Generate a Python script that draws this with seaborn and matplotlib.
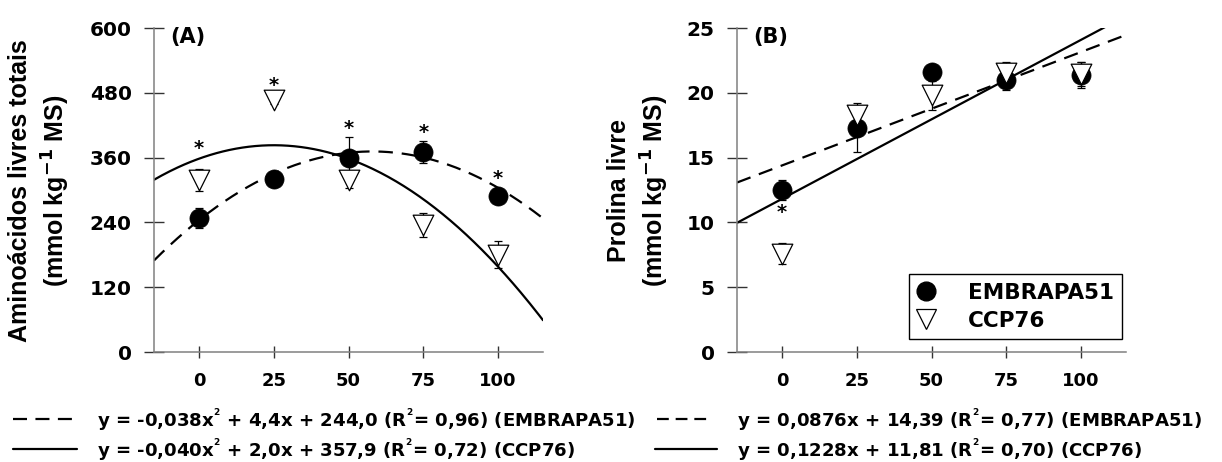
import numpy as np
import pandas as pd
import matplotlib
matplotlib.use("Agg")
import matplotlib.pyplot as plt
import seaborn as sns
from matplotlib.lines import Line2D

# ---------------- data ----------------
doses = [0, 25, 50, 75, 100]
x_ticks = [0, 25, 50, 75, 100]
aa_yticks = [0, 120, 240, 360, 480, 600]
pro_yticks = [0, 5, 10, 15, 20, 25]

aa_embrapa = [248, 320, 359, 370, 289]
aa_embrapa_err = [18, 10, 39, 20, 10]
aa_ccp = [318, 467, 318, 235, 180]
aa_ccp_err = [20, 8, 15, 22, 25]
aa_star_x = [0, 25, 50, 75, 100]
aa_star_y = [376, 494, 413, 407, 322]

pro_embrapa = [12.5, 17.3, 21.6, 21.0, 21.4]
pro_embrapa_err = [0.8, 1.9, 0.5, 0.8, 1.0]
pro_ccp = [7.6, 18.3, 19.8, 21.5, 21.45]
pro_ccp_err = [0.8, 0.7, 1.1, 0.9, 0.9]
pro_star_x = [0]
pro_star_y = [10.8]

aa_fit_embrapa = [-0.038, 4.4, 244.0]   # quadratic coefficients
aa_fit_ccp = [-0.040, 2.0, 357.9]
pro_fit_embrapa = [0.0876, 14.39]       # linear coefficients
pro_fit_ccp = [0.1228, 11.81]

series = ["EMBRAPA51", "CCP76"]
SUP2 = r"$^{{}^{2}}$"
eq_a = ["y = -0,038x" + SUP2 + " + 4,4x + 244,0 (R" + SUP2 + "= 0,96) (EMBRAPA51)",
        "y = -0,040x" + SUP2 + " + 2,0x + 357,9 (R" + SUP2 + "= 0,72) (CCP76)"]
eq_b = ["y = 0,0876x + 14,39 (R" + SUP2 + "= 0,77) (EMBRAPA51)",
        "y = 0,1228x + 11,81 (R" + SUP2 + "= 0,70) (CCP76)"]
ylab_a = "Aminoácidos livres totais\n(mmol kg$^{-1}$ MS)"
ylab_b = "Prolina livre\n(mmol kg$^{-1}$ MS)"

# ---------------- style ----------------
sns.set_style("ticks")
plt.rcParams["font.family"] = ["DejaVu Sans"]
plt.rcParams["font.weight"] = "bold"
plt.rcParams["text.color"] = "black"
plt.rcParams["axes.labelcolor"] = "black"
plt.rcParams["xtick.color"] = "black"
plt.rcParams["ytick.color"] = "black"
plt.rcParams["mathtext.fontset"] = "custom"
plt.rcParams["mathtext.rm"] = "DejaVu Sans:bold"
plt.rcParams["mathtext.it"] = "DejaVu Sans:bold"
plt.rcParams["mathtext.bf"] = "DejaVu Sans:bold"
plt.rcParams["mathtext.default"] = "rm"

W, H = 1222, 462
fig = plt.figure(figsize=(W / 100, H / 100), dpi=100)
fig.patch.set_facecolor("white")

def fx(px):
    return px / W

def fy(py):
    return 1 - py / H

ax_a = fig.add_axes([fx(154), fy(352), 389 / W, 324 / H])
ax_b = fig.add_axes([fx(737), fy(352), 389 / W, 324 / H])

xgrid = np.linspace(-15, 115, 300)
dash = (0, (6.5, 4))


def style_axis(ax, yticks, ylim):
    ax.set_xlim(-15, 115)
    ax.set_ylim(*ylim)
    ax.set_xticks(x_ticks)
    ax.set_yticks(yticks)
    for s in ["top", "right"]:
        ax.spines[s].set_visible(False)
    for s in ["left", "bottom"]:
        ax.spines[s].set_color("#808080")
        ax.spines[s].set_linewidth(1.1)
    ax.tick_params(axis="y", direction="inout", length=14, width=1.0,
                   color="#333333", labelcolor="black", pad=9,
                   labelsize=14.5)
    ax.tick_params(axis="x", direction="inout", length=8.5, width=1.0,
                   color="#333333", labelcolor="black", pad=10,
                   labelsize=13)
    for lab in ax.get_xticklabels() + ax.get_yticklabels():
        lab.set_fontweight("bold")
    ax.set_xlabel("")
    ax.set_ylabel("")


def draw_points(ax, y1, e1, y2, e2):
    ax.errorbar(doses, y1, yerr=e1, fmt="none", ecolor="black",
                elinewidth=0.9, capsize=3.2, capthick=0.9, zorder=2)
    ax.errorbar(doses, y2, yerr=e2, fmt="none", ecolor="black",
                elinewidth=0.9, capsize=3.2, capthick=0.9, zorder=2)
    d1 = pd.DataFrame({"x": doses, "y": y1})
    d2 = pd.DataFrame({"x": doses, "y": y2})
    sns.scatterplot(data=d1, x="x", y="y", ax=ax, marker="o", s=190,
                    color="black", edgecolor="black", linewidth=0.5,
                    zorder=3, label=series[0], legend=False)
    sns.scatterplot(data=d2, x="x", y="y", ax=ax, marker="v", s=220,
                    color="white", edgecolor="black", linewidth=0.9,
                    zorder=4, label=series[1], legend=False)


# ---------------- panel A ----------------
fit_a1 = pd.DataFrame({"x": xgrid, "y": np.polyval(aa_fit_embrapa, xgrid)})
fit_a2 = pd.DataFrame({"x": xgrid, "y": np.polyval(aa_fit_ccp, xgrid)})
sns.lineplot(data=fit_a1, x="x", y="y", ax=ax_a, color="black", lw=1.6,
             linestyle=dash, zorder=1.5)
sns.lineplot(data=fit_a2, x="x", y="y", ax=ax_a, color="black", lw=1.6,
             zorder=1.5)
draw_points(ax_a, aa_embrapa, aa_embrapa_err, aa_ccp, aa_ccp_err)
for xs, ys in zip(aa_star_x, aa_star_y):
    ax_a.text(xs, ys, "*", ha="center", va="center", fontsize=14,
              fontweight="bold", zorder=5)
style_axis(ax_a, aa_yticks, (0, 600))
ax_a.text(fx(170), fy(37), "(A)", transform=fig.transFigure, ha="left",
          va="center", fontsize=15, fontweight="bold")

# ---------------- panel B ----------------
fit_b1 = pd.DataFrame({"x": xgrid, "y": np.polyval(pro_fit_embrapa, xgrid)})
fit_b2 = pd.DataFrame({"x": xgrid, "y": np.polyval(pro_fit_ccp, xgrid)})
sns.lineplot(data=fit_b1, x="x", y="y", ax=ax_b, color="black", lw=1.6,
             linestyle=dash, zorder=1.5)
sns.lineplot(data=fit_b2, x="x", y="y", ax=ax_b, color="black", lw=1.6,
             zorder=1.5)
draw_points(ax_b, pro_embrapa, pro_embrapa_err, pro_ccp, pro_ccp_err)
for xs, ys in zip(pro_star_x, pro_star_y):
    ax_b.text(xs, ys, "*", ha="center", va="center", fontsize=14,
              fontweight="bold", zorder=5)
style_axis(ax_b, pro_yticks, (0, 25))
ax_b.text(fx(753), fy(37), "(B)", transform=fig.transFigure, ha="left",
          va="center", fontsize=15, fontweight="bold")

handles = [Line2D([], [], marker="o", ls="none", color="black",
                  markersize=13.5),
           Line2D([], [], marker="v", ls="none", markerfacecolor="white",
                  markeredgecolor="black", markeredgewidth=0.9,
                  markersize=14.5)]
leg = ax_b.legend(handles, series, loc="lower right",
                  bbox_to_anchor=(0.99, 0.04), borderaxespad=0,
                  frameon=True, fancybox=False, framealpha=1,
                  edgecolor="black", handlelength=0.8, handletextpad=1.55,
                  borderpad=0.38, labelspacing=0.38,
                  prop={"family": "DejaVu Sans", "weight": "bold",
                        "size": 15.5})
leg.get_frame().set_linewidth(1.0)
for t in leg.get_texts():
    t.set_color("black")

# ---------------- y labels (Arial-metric font for rotated text) ----------------
fig.text(fx(40), fy(191), ylab_a, rotation=90, ha="center", va="center",
         fontsize=18, fontweight="bold", family="Liberation Sans",
         linespacing=1.3, multialignment="center", color="black")
fig.text(fx(639), fy(191), ylab_b, rotation=90, ha="center", va="center",
         fontsize=18, fontweight="bold", family="Liberation Sans",
         linespacing=1.3, multialignment="center", color="black")

# ---------------- equation legend rows ----------------
rows_y = [419, 449]
fig.add_artist(Line2D([fx(13), fx(72)], [fy(rows_y[0])] * 2, color="black",
                      lw=1.6, linestyle=(0, (6.3, 3.8)),
                      transform=fig.transFigure))
fig.add_artist(Line2D([fx(13), fx(77)], [fy(rows_y[1])] * 2, color="black",
                      lw=1.6, transform=fig.transFigure))
fig.add_artist(Line2D([fx(657), fx(707)], [fy(rows_y[0])] * 2, color="black",
                      lw=1.6, linestyle=(0, (5.3, 3.1)),
                      transform=fig.transFigure))
fig.add_artist(Line2D([fx(655), fx(717)], [fy(rows_y[1])] * 2, color="black",
                      lw=1.6, transform=fig.transFigure))
for i in range(2):
    fig.text(fx(97), fy(rows_y[i] + 1), eq_a[i], ha="left", va="center",
             fontsize=13.1, fontweight="bold", color="black")
    fig.text(fx(737), fy(rows_y[i] + 1), eq_b[i], ha="left", va="center",
             fontsize=13.1, fontweight="bold", color="black")

fig.savefig("out.png", dpi=100, facecolor="white")
